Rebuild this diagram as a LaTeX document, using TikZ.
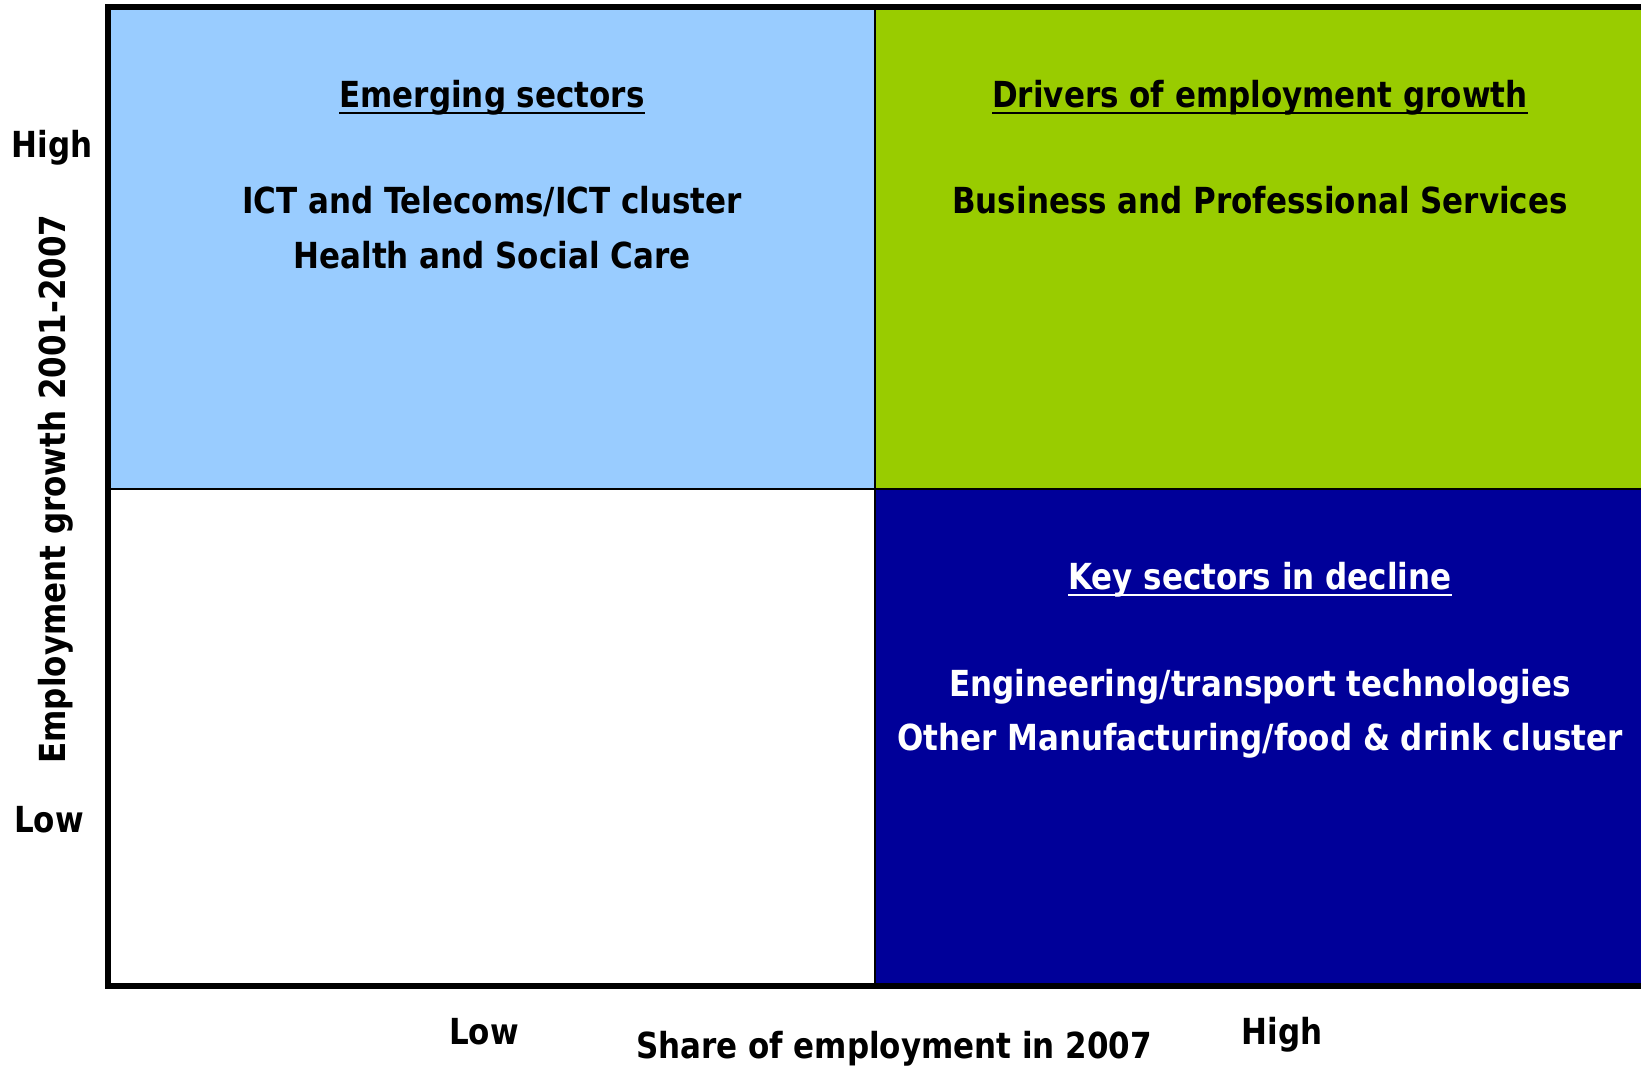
\documentclass[tikz,border=0pt]{standalone}
\usepackage{fontspec}
\newfontfamily\tfont{DejaVuSansCondensed-Bold.ttf}[FakeStretch=0.96]
\usetikzlibrary{calc}
\definecolor{lblue}{HTML}{99CCFF}
\definecolor{lgreen}{HTML}{99CC00}
\definecolor{navy}{HTML}{000099}
\tikzset{
  txt/.style={font=\tfont\fontsize{36}{40}\selectfont, inner sep=0pt, anchor=base},
  ul/.style={line width=2.2bp},
  frame/.style={line width=6bp},
  divider/.style={line width=2bp}
}
\begin{document}
\begin{tikzpicture}[x=1bp,y=-1bp]
\useasboundingbox (0,0) rectangle (1641,1065);
% quadrants
\fill[lblue] (110,10) rectangle (875,489);
\fill[lgreen] (875,10) rectangle (1641,489);
\fill[navy] (875,489) rectangle (1641,983);
% dividers
\draw[divider] (875,10) -- (875,983);
\draw[divider] (110,489) -- (1641,489);
% frame
\draw[frame] (1641,7) -- (107.5,7) -- (107.5,986) -- (1641,986);
% texts top-left
\node[txt] (es) at (492,107) {Emerging sectors};
\draw[ul] ($(es.base west)+(0,6)$) -- ($(es.base east)+(0,6)$);
\node[txt] (ict) at (492,213) {ICT and Telecoms/ICT cluster};
\node[txt] (hsc) at (492,268) {Health and Social Care};
% top-right
\node[txt] (deg) at (1260,107) {Drivers of employment growth};
\draw[ul] ($(deg.base west)+(0,6)$) -- ($(deg.base east)+(0,6)$);
\node[txt] (bps) at (1260,213) {Business and Professional Services};
% bottom-right
\node[txt, text=white] (ksd) at (1260,589) {Key sectors in decline};
\draw[ul, white] ($(ksd.base west)+(0,6)$) -- ($(ksd.base east)+(0,6)$);
\node[txt, text=white] (ett) at (1260,696) {Engineering/transport technologies};
\node[txt, text=white] (omf) at (1260,750) {Other Manufacturing/food \& drink cluster};
% axes labels
\node[txt] (yhigh) at (52,157) {High};
\node[txt] (ylow) at (49,832) {Low};
\node[txt, rotate=90] (ylab) at (65,489) {Employment growth 2001-2007};
\node[txt] (xlow) at (484,1044) {Low};
\node[txt] (xlab) at (894,1058) {Share of employment in 2007};
\node[txt] (xhigh) at (1282,1044) {High};
\end{tikzpicture}
\end{document}
